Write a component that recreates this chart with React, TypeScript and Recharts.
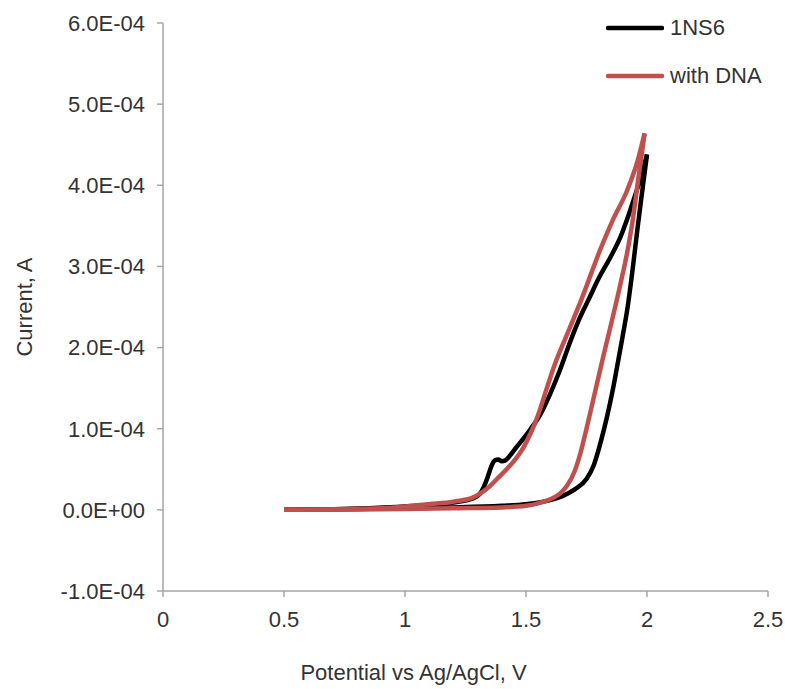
import React from 'react';
import { LineChart, Line, XAxis, YAxis, Legend } from 'recharts';

// Potential (V) / current (A) readings, forward and reverse scans
const ns6Forward = [
  { v: 0.5, i: 0 },
  { v: 0.8, i: 0.1e-5 },
  { v: 1.0, i: 0.2e-5 },
  { v: 1.2, i: 0.3e-5 },
  { v: 1.4, i: 0.5e-5 },
  { v: 1.5, i: 0.7e-5 },
  { v: 1.6, i: 1.2e-5 },
  { v: 1.65, i: 1.7e-5 },
  { v: 1.7, i: 2.5e-5 },
  { v: 1.75, i: 3.8e-5 },
  { v: 1.78, i: 5.5e-5 },
  { v: 1.81, i: 8.5e-5 },
  { v: 1.835, i: 1.15e-4 },
  { v: 1.86, i: 1.5e-4 },
  { v: 1.88, i: 1.82e-4 },
  { v: 1.9, i: 2.15e-4 },
  { v: 1.92, i: 2.5e-4 },
  { v: 1.94, i: 2.95e-4 },
  { v: 1.96, i: 3.45e-4 },
  { v: 1.98, i: 3.92e-4 },
  { v: 2.0, i: 4.38e-4 },
];
const ns6Reverse = [
  { v: 2.0, i: 4.38e-4 },
  { v: 1.975, i: 4.1e-4 },
  { v: 1.95, i: 3.87e-4 },
  { v: 1.92, i: 3.6e-4 },
  { v: 1.89, i: 3.36e-4 },
  { v: 1.85, i: 3.12e-4 },
  { v: 1.8, i: 2.85e-4 },
  { v: 1.76, i: 2.6e-4 },
  { v: 1.72, i: 2.35e-4 },
  { v: 1.68, i: 2.05e-4 },
  { v: 1.64, i: 1.72e-4 },
  { v: 1.6, i: 1.43e-4 },
  { v: 1.56, i: 1.18e-4 },
  { v: 1.52, i: 1.0e-4 },
  { v: 1.49, i: 0.88e-4 },
  { v: 1.46, i: 0.77e-4 },
  { v: 1.434, i: 0.67e-4 },
  { v: 1.415, i: 0.61e-4 },
  { v: 1.4, i: 0.6e-4 },
  { v: 1.385, i: 0.62e-4 },
  { v: 1.372, i: 0.61e-4 },
  { v: 1.36, i: 0.56e-4 },
  { v: 1.35, i: 0.48e-4 },
  { v: 1.34, i: 0.39e-4 },
  { v: 1.325, i: 0.28e-4 },
  { v: 1.31, i: 0.2e-4 },
  { v: 1.28, i: 0.14e-4 },
  { v: 1.2, i: 0.09e-4 },
  { v: 1.05, i: 0.05e-4 },
  { v: 0.85, i: 0.02e-4 },
  { v: 0.5, i: 0 },
];
const dnaForward = [
  { v: 0.5, i: 0 },
  { v: 0.8, i: 0.05e-5 },
  { v: 1.0, i: 0.1e-5 },
  { v: 1.2, i: 0.2e-5 },
  { v: 1.4, i: 0.3e-5 },
  { v: 1.5, i: 0.5e-5 },
  { v: 1.55, i: 0.8e-5 },
  { v: 1.6, i: 1.3e-5 },
  { v: 1.64, i: 2.0e-5 },
  { v: 1.67, i: 3.0e-5 },
  { v: 1.7, i: 4.7e-5 },
  { v: 1.725, i: 7.0e-5 },
  { v: 1.75, i: 1.0e-4 },
  { v: 1.785, i: 1.45e-4 },
  { v: 1.82, i: 1.9e-4 },
  { v: 1.855, i: 2.33e-4 },
  { v: 1.89, i: 2.78e-4 },
  { v: 1.92, i: 3.2e-4 },
  { v: 1.94, i: 3.55e-4 },
  { v: 1.965, i: 4.1e-4 },
  { v: 1.99, i: 4.64e-4 },
];
const dnaReverse = [
  { v: 1.99, i: 4.64e-4 },
  { v: 1.963, i: 4.32e-4 },
  { v: 1.917, i: 3.93e-4 },
  { v: 1.86, i: 3.58e-4 },
  { v: 1.806, i: 3.2e-4 },
  { v: 1.73, i: 2.6e-4 },
  { v: 1.668, i: 2.15e-4 },
  { v: 1.62, i: 1.8e-4 },
  { v: 1.586, i: 1.5e-4 },
  { v: 1.55, i: 1.17e-4 },
  { v: 1.52, i: 0.95e-4 },
  { v: 1.488, i: 0.76e-4 },
  { v: 1.45, i: 0.6e-4 },
  { v: 1.42, i: 0.5e-4 },
  { v: 1.38, i: 0.38e-4 },
  { v: 1.35, i: 0.29e-4 },
  { v: 1.31, i: 0.2e-4 },
  { v: 1.28, i: 0.15e-4 },
  { v: 1.2, i: 0.1e-4 },
  { v: 1.1, i: 0.07e-4 },
  { v: 1.03, i: 0.05e-4 },
  { v: 0.9, i: 0.02e-4 },
  { v: 0.5, i: 0 },
];

const seriesNames = ['1NS6', 'with DNA'];
const seriesColors = ['#000000', '#C0504D'];
const xTicks = [0, 0.5, 1, 1.5, 2, 2.5];
const yTicks = [-1e-4, 0, 1e-4, 2e-4, 3e-4, 4e-4, 5e-4, 6e-4];
const xLabel = 'Potential vs Ag/AgCl, V';
const yLabel = 'Current, A';

const FONT = '"Liberation Sans", Arial, sans-serif';
const AXIS = '#A6A6A6';
const TEXT = '#333333';

const fmtY = (val: number) => {
  const s = Number(val).toExponential(1);
  const [m, e] = s.split('e');
  const n = parseInt(e, 10);
  const sign = n < 0 ? '-' : '+';
  return `${m}E${sign}${String(Math.abs(n)).padStart(2, '0')}`;
};

const LegendBox = (props: any) => {
  const items = (props.payload || []).filter((p: any) => p.type !== 'none');
  return (
    <div style={{ fontFamily: FONT }}>
      {items.map((p: any, idx: number) => (
        <div key={idx} style={{ display: 'flex', alignItems: 'center', height: 48 }}>
          <svg width={58} height={8} style={{ display: 'block' }}>
            <line x1={2} y1={4} x2={56} y2={4} stroke={p.color} strokeWidth={4.5} strokeLinecap="round" />
          </svg>
          <span style={{ marginLeft: 6, fontSize: 22, color: TEXT }}>{p.value}</span>
        </div>
      ))}
    </div>
  );
};

export default function App() {
  return (
    <div style={{ position: 'absolute', left: 0, top: 0, background: '#fff' }}>
      <LineChart
        width={785}
        height={689}
        margin={{ top: 23, right: 17, left: 0, bottom: 0 }}
        style={{ fontFamily: FONT }}
      >
        <XAxis
          type="number"
          dataKey="v"
          domain={[0, 2.5]}
          ticks={xTicks}
          allowDataOverflow
          height={98}
          stroke={AXIS}
          strokeWidth={1.5}
          tickSize={6}
          tickMargin={14}
          tick={{ fill: TEXT, fontSize: 22 }}
          label={{ value: xLabel, position: 'insideBottom', offset: 9, dx: -52, fill: TEXT, fontSize: 22 }}
        />
        <YAxis
          type="number"
          dataKey="i"
          domain={[-1e-4, 6e-4]}
          ticks={yTicks}
          allowDataOverflow
          width={163}
          stroke={AXIS}
          strokeWidth={1.5}
          tickSize={6}
          tickMargin={12}
          tickFormatter={fmtY}
          tick={{ fill: TEXT, fontSize: 22 }}
          label={{ value: yLabel, angle: -90, position: 'insideLeft', offset: 24, style: { textAnchor: 'middle' }, fill: TEXT, fontSize: 22 }}
        />
        <Legend
          layout="vertical"
          verticalAlign="middle"
          align="center"
          wrapperStyle={{ top: 4, left: 606, width: 170 }}
          content={<LegendBox />}
        />
        <Line data={ns6Forward} dataKey="i" name={seriesNames[0]} stroke={seriesColors[0]} strokeWidth={4.5} dot={false} type="monotone" isAnimationActive={false} />
        <Line data={ns6Reverse} dataKey="i" name="ns6-rev" legendType="none" stroke={seriesColors[0]} strokeWidth={4.5} dot={false} type="monotone" isAnimationActive={false} />
        <Line data={dnaForward} dataKey="i" name={seriesNames[1]} stroke={seriesColors[1]} strokeWidth={4.5} dot={false} type="monotone" isAnimationActive={false} />
        <Line data={dnaReverse} dataKey="i" name="dna-rev" legendType="none" stroke={seriesColors[1]} strokeWidth={4.5} dot={false} type="monotone" isAnimationActive={false} />
      </LineChart>
    </div>
  );
}
